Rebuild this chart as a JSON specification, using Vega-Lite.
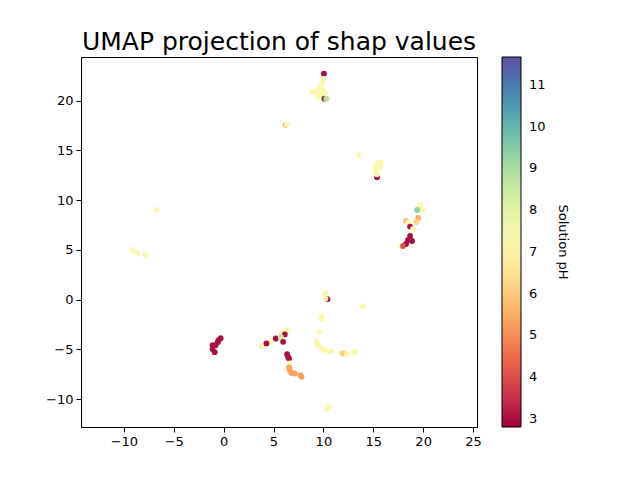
{
  "$schema": "https://vega.github.io/schema/vega-lite/v6.json",
  "width": 396,
  "height": 370,
  "autosize": "none",
  "padding": {"left": 81, "top": 57, "right": 163, "bottom": 53},
  "background": "white",
  "title": {
    "text": "UMAP projection of shap values",
    "font": "DejaVu Sans",
    "fontSize": 25,
    "fontWeight": "normal",
    "color": "black",
    "anchor": "middle",
    "offset": 2
  },
  "config": {
    "view": {"stroke": "black", "strokeWidth": 1},
    "axis": {
      "grid": false,
      "domainColor": "black",
      "tickColor": "black",
      "tickSize": 5,
      "labelFont": "DejaVu Sans",
      "labelFontSize": 13,
      "labelColor": "black",
      "labelPadding": 3,
      "titleFont": "DejaVu Sans"
    }
  },
  "data": {
    "values": [
      {"x": 10.4, "y": 0.05, "pH": 3.0},
      {"x": 10.05, "y": 22.72, "pH": 3.0},
      {"x": 9.95, "y": 22.2, "pH": 7.2},
      {"x": 9.85, "y": 21.7, "pH": 7.2},
      {"x": 9.65, "y": 21.3, "pH": 7.2},
      {"x": 9.25, "y": 21.0, "pH": 7.2},
      {"x": 8.94, "y": 20.9, "pH": 7.2},
      {"x": 9.55, "y": 20.8, "pH": 7.2},
      {"x": 9.95, "y": 21.0, "pH": 7.2},
      {"x": 9.85, "y": 20.5, "pH": 7.2},
      {"x": 10.15, "y": 20.8, "pH": 7.2},
      {"x": 9.45, "y": 20.4, "pH": 7.2},
      {"x": 10.1, "y": 20.2, "pH": 3.2},
      {"x": 10.3, "y": 20.2, "pH": 8.9},
      {"x": 6.23, "y": 17.58, "pH": 5.2},
      {"x": 6.33, "y": 17.62, "pH": 7.2},
      {"x": 13.57, "y": 14.56, "pH": 7.2},
      {"x": 15.38, "y": 12.3, "pH": 3.0},
      {"x": 15.48, "y": 13.76, "pH": 7.2},
      {"x": 15.68, "y": 13.35, "pH": 7.2},
      {"x": 15.28, "y": 12.85, "pH": 7.2},
      {"x": 15.18, "y": 13.35, "pH": 7.2},
      {"x": 15.78, "y": 13.76, "pH": 7.2},
      {"x": 15.38, "y": 12.6, "pH": 7.2},
      {"x": -6.73, "y": 9.02, "pH": 7.2},
      {"x": -9.15, "y": 5.0, "pH": 7.2},
      {"x": -8.64, "y": 4.69, "pH": 7.2},
      {"x": -7.84, "y": 4.49, "pH": 7.2},
      {"x": 19.7, "y": 9.53, "pH": 7.2},
      {"x": 19.9, "y": 9.02, "pH": 7.2},
      {"x": 19.7, "y": 9.22, "pH": 7.2},
      {"x": 19.4, "y": 9.02, "pH": 9.3},
      {"x": 18.29, "y": 7.92, "pH": 5.8},
      {"x": 18.49, "y": 7.71, "pH": 7.2},
      {"x": 18.69, "y": 7.35, "pH": 3.0},
      {"x": 19.5, "y": 8.22, "pH": 5.5},
      {"x": 19.3, "y": 7.81, "pH": 6.2},
      {"x": 18.99, "y": 7.11, "pH": 7.2},
      {"x": 18.69, "y": 6.4, "pH": 3.0},
      {"x": 18.89, "y": 5.9, "pH": 3.0},
      {"x": 18.49, "y": 6.0, "pH": 3.0},
      {"x": 18.29, "y": 5.6, "pH": 3.0},
      {"x": 17.79, "y": 5.4, "pH": 7.2},
      {"x": 17.99, "y": 5.4, "pH": 4.0},
      {"x": 10.15, "y": 0.66, "pH": 7.2},
      {"x": 10.2, "y": 0.1, "pH": 7.2},
      {"x": 13.94, "y": -0.64, "pH": 7.2},
      {"x": 9.82, "y": -1.65, "pH": 7.2},
      {"x": 9.82, "y": -1.88, "pH": 7.2},
      {"x": 9.58, "y": -3.23, "pH": 7.2},
      {"x": 6.36, "y": -3.06, "pH": 7.2},
      {"x": 5.9, "y": -3.33, "pH": 7.2},
      {"x": 6.13, "y": -3.49, "pH": 3.0},
      {"x": 5.23, "y": -3.9, "pH": 3.0},
      {"x": 5.73, "y": -3.74, "pH": 8.5},
      {"x": 5.96, "y": -4.24, "pH": 3.0},
      {"x": 4.72, "y": -4.24, "pH": 7.2},
      {"x": 3.82, "y": -4.67, "pH": 7.2},
      {"x": 4.29, "y": -4.4, "pH": 3.0},
      {"x": 9.32, "y": -4.24, "pH": 7.2},
      {"x": 9.48, "y": -4.57, "pH": 7.2},
      {"x": 9.82, "y": -4.9, "pH": 7.2},
      {"x": 10.15, "y": -5.08, "pH": 7.2},
      {"x": 10.72, "y": -5.18, "pH": 7.2},
      {"x": 11.73, "y": -5.35, "pH": 7.2},
      {"x": 11.99, "y": -5.41, "pH": 6.0},
      {"x": 12.33, "y": -5.48, "pH": 7.2},
      {"x": 13.0, "y": -5.35, "pH": 7.2},
      {"x": 13.17, "y": -5.25, "pH": 7.2},
      {"x": 6.36, "y": -5.48, "pH": 3.0},
      {"x": 6.46, "y": -5.75, "pH": 3.0},
      {"x": 6.56, "y": -5.91, "pH": 3.0},
      {"x": 6.63, "y": -6.41, "pH": 7.2},
      {"x": 6.56, "y": -6.82, "pH": 5.3},
      {"x": 6.63, "y": -7.09, "pH": 5.3},
      {"x": 6.8, "y": -7.36, "pH": 5.3},
      {"x": 7.14, "y": -7.42, "pH": 5.3},
      {"x": 7.71, "y": -7.59, "pH": 5.3},
      {"x": 7.81, "y": -7.76, "pH": 5.3},
      {"x": 10.38, "y": -10.95, "pH": 7.2},
      {"x": 10.58, "y": -10.72, "pH": 7.2},
      {"x": -0.3, "y": -3.87, "pH": 3.0},
      {"x": -0.5, "y": -4.07, "pH": 3.0},
      {"x": -0.6, "y": -4.27, "pH": 3.0},
      {"x": -0.8, "y": -4.57, "pH": 3.0},
      {"x": -1.11, "y": -4.57, "pH": 3.0},
      {"x": -1.11, "y": -4.97, "pH": 3.0},
      {"x": -0.9, "y": -5.28, "pH": 3.0}
    ]
  },
  "mark": {"type": "circle", "size": 34, "opacity": 1},
  "encoding": {
    "x": {
      "field": "x",
      "type": "quantitative",
      "scale": {"domain": [-14.3, 25.4], "nice": false, "zero": false},
      "axis": {"values": [-10, -5, 0, 5, 10, 15, 20, 25], "title": null}
    },
    "y": {
      "field": "y",
      "type": "quantitative",
      "scale": {"domain": [-12.8, 24.4], "nice": false, "zero": false},
      "axis": {"values": [-10, -5, 0, 5, 10, 15, 20], "title": null}
    },
    "color": {
      "field": "pH",
      "type": "quantitative",
      "scale": {"scheme": "spectral", "domain": [2.8, 11.67], "nice": false, "zero": false},
      "legend": {
        "title": "Solution pH",
        "orient": "right",
        "offset": 25,
        "padding": 0,
        "gradientLength": 370,
        "gradientThickness": 19,
        "gradientStrokeColor": "black",
        "gradientStrokeWidth": 1,
        "values": [3, 4, 5, 6, 7, 8, 9, 10, 11],
        "labelFont": "DejaVu Sans",
        "labelFontSize": 13,
        "labelColor": "black",
        "labelOffset": 8,
        "titleOrient": "right",
        "titleFont": "DejaVu Sans",
        "titleFontSize": 13,
        "titleFontWeight": "normal",
        "titleColor": "black",
        "titlePadding": 10,
        "titleAnchor": "middle",
        "encode": {"title": {"update": {"angle": {"value": 90}}}}
      }
    }
  }
}
